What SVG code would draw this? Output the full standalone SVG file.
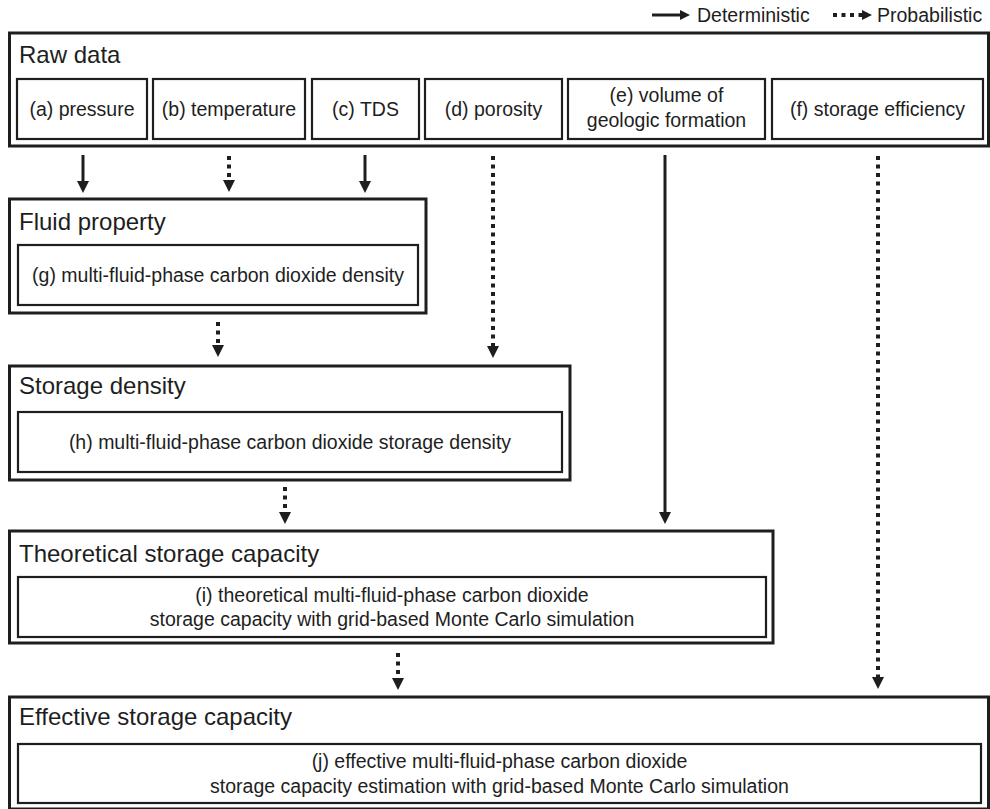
<svg xmlns="http://www.w3.org/2000/svg" width="990" height="809" viewBox="0 0 990 809">
<style>
.outer{fill:#fff;stroke:#1e1e1e;stroke-width:3}
.inner{fill:#fff;stroke:#1e1e1e;stroke-width:2.2}
.title{font-family:"Liberation Sans",Arial,sans-serif;font-size:24px;fill:#1e1e1e}
.lbl{font-family:"Liberation Sans",Arial,sans-serif;font-size:19.5px;fill:#1e1e1e;text-anchor:middle}
.leg{font-family:"Liberation Sans",Arial,sans-serif;font-size:19.5px;fill:#1e1e1e}
.solid{stroke:#1e1e1e;stroke-width:3;fill:none}
.dot{stroke:#1e1e1e;stroke-width:4;stroke-dasharray:4 4.5;fill:none}
</style>
<defs>
<marker id="ah" viewBox="0 0 12 12" refX="0" refY="6" markerWidth="12" markerHeight="12" markerUnits="userSpaceOnUse" orient="auto">
<path d="M0,0 L12,6 L0,12 z" fill="#1e1e1e"/>
</marker>
<marker id="ahs" viewBox="0 0 10 10" refX="0" refY="5" markerWidth="10" markerHeight="10" markerUnits="userSpaceOnUse" orient="auto">
<path d="M0,0 L10,5 L0,10 z" fill="#1e1e1e"/>
</marker>
</defs>
<rect width="990" height="809" fill="#fff"/>

<g id="legend">
<line x1="652" y1="15" x2="680" y2="15" class="solid" stroke-width="3.5" marker-end="url(#ahs)"/>
<text x="697" y="22" class="leg">Deterministic</text>
<line x1="833" y1="15" x2="862" y2="15" class="dot" stroke-width="3.5" stroke-dasharray="3.5 3.5" marker-end="url(#ahs)"/>
<text x="877" y="22" class="leg">Probabilistic</text>
</g>

<g id="raw-data">
<rect class="outer" x="9.5" y="33" width="979" height="113"/>
<text class="title" x="19" y="63">Raw data</text>
<g id="a"><rect class="inner" x="17" y="79" width="130" height="60"/><text class="lbl" x="82" y="116">(a) pressure</text></g>
<g id="b"><rect class="inner" x="153" y="79" width="152" height="60"/><text class="lbl" x="229" y="116">(b) temperature</text></g>
<g id="c"><rect class="inner" x="312" y="79" width="107" height="60"/><text class="lbl" x="365.5" y="116">(c) TDS</text></g>
<g id="d"><rect class="inner" x="425" y="79" width="137" height="60"/><text class="lbl" x="493.5" y="116">(d) porosity</text></g>
<g id="e"><rect class="inner" x="568" y="79" width="197" height="60"/><text class="lbl" x="666.5" y="102">(e) volume of</text><text class="lbl" x="666.5" y="127">geologic formation</text></g>
<g id="f"><rect class="inner" x="772" y="79" width="211" height="60"/><text class="lbl" x="877.5" y="116">(f) storage efficiency</text></g>
</g>

<g id="fluid-property">
<rect class="outer" x="9.5" y="199" width="416.5" height="114"/>
<text class="title" x="19" y="230">Fluid property</text>
<rect class="inner" x="18" y="245" width="400" height="60"/>
<text class="lbl" x="218" y="282">(g) multi-fluid-phase carbon dioxide density</text>
</g>

<g id="storage-density">
<rect class="outer" x="9.5" y="366" width="560.5" height="114"/>
<text class="title" x="19" y="394">Storage density</text>
<rect class="inner" x="18" y="412" width="544" height="60"/>
<text class="lbl" x="290" y="449">(h) multi-fluid-phase carbon dioxide storage density</text>
</g>

<g id="theoretical">
<rect class="outer" x="9.5" y="531" width="763.5" height="112"/>
<text class="title" x="19" y="562">Theoretical storage capacity</text>
<rect class="inner" x="18" y="577" width="748" height="60"/>
<text class="lbl" x="392" y="602">(i) theoretical multi-fluid-phase carbon dioxide</text>
<text class="lbl" x="392" y="626">storage capacity with grid-based Monte Carlo simulation</text>
</g>

<g id="effective">
<rect class="outer" x="9.5" y="697" width="979" height="112"/>
<text class="title" x="19" y="725">Effective storage capacity</text>
<rect class="inner" x="18" y="744" width="963" height="59"/>
<text class="lbl" x="499.5" y="768">(j) effective multi-fluid-phase carbon dioxide</text>
<text class="lbl" x="499.5" y="793">storage capacity estimation with grid-based Monte Carlo simulation</text>
</g>

<g id="connectors">
<line x1="83" y1="155" x2="83" y2="181" class="solid" marker-end="url(#ah)"/>
<line x1="229" y1="156" x2="229" y2="180" class="dot" marker-end="url(#ah)"/>
<line x1="365" y1="155" x2="365" y2="181" class="solid" marker-end="url(#ah)"/>
<line x1="493" y1="156" x2="493" y2="346" class="dot" marker-end="url(#ah)"/>
<line x1="665" y1="155" x2="665" y2="512" class="solid" marker-end="url(#ah)"/>
<line x1="878" y1="156" x2="878" y2="677" class="dot" marker-end="url(#ah)"/>
<line x1="218" y1="322" x2="218" y2="345" class="dot" marker-end="url(#ah)"/>
<line x1="285" y1="487" x2="285" y2="512" class="dot" marker-end="url(#ah)"/>
<line x1="398" y1="653" x2="398" y2="678" class="dot" marker-end="url(#ah)"/>
</g>
</svg>
